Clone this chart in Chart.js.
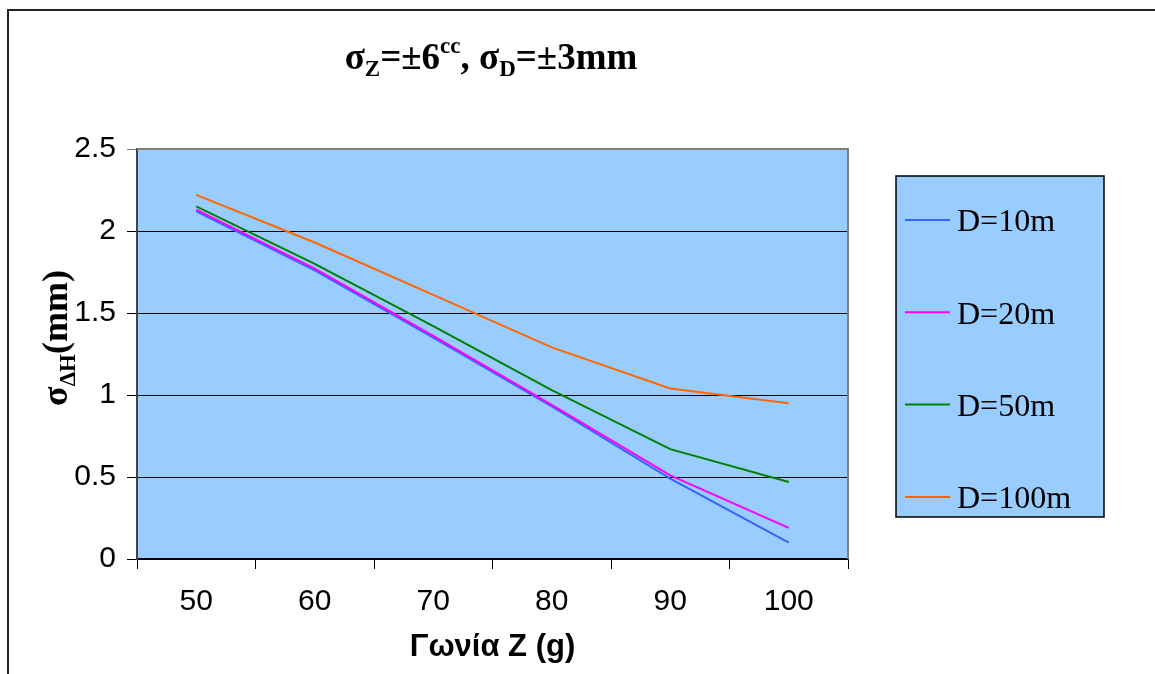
<!DOCTYPE html>
<html>
<head>
<meta charset="utf-8">
<script src="https://cdn.jsdelivr.net/npm/chart.js@4/dist/chart.umd.min.js"></script>
<style>
  body { margin: 0; background: #fff; }
  #wrap { width: 1155px; height: 674px; position: relative; }
</style>
</head>
<body>
<div id="wrap"><canvas id="myChart"></canvas></div>
<script>
const angles = ["50", "60", "70", "80", "90", "100"];
const yTickLabels = ["0", "0.5", "1", "1.5", "2", "2.5"];

const seriesNames = ["D=10m", "D=20m", "D=50m", "D=100m"];
const d10 = [2.12, 1.76, 1.35, 0.93, 0.49, 0.10];
const d20 = [2.13, 1.77, 1.36, 0.94, 0.51, 0.19];
const d50 = [2.15, 1.80, 1.42, 1.03, 0.67, 0.47];
const d100 = [2.22, 1.93, 1.61, 1.29, 1.04, 0.95];

const colors = ["#3366FF", "#FF00FF", "#008000", "#FF6600"];
const serif = "'Liberation Serif', 'Times New Roman', serif";
const sans = "'Liberation Sans', Arial, sans-serif";

// draws a run of text pieces (with sub/superscripts) starting at x
function drawRuns(c, runs, x, y) {
  runs.forEach((r) => {
    c.font = `bold ${r.size}px ${serif}`;
    c.fillText(r.t, x, y + (r.dy || 0));
    x += c.measureText(r.t).width;
  });
}
function runsWidth(c, runs) {
  let w = 0;
  runs.forEach((r) => {
    c.font = `bold ${r.size}px ${serif}`;
    w += c.measureText(r.t).width;
  });
  return w;
}

const titleRuns = [
  { t: "σ", size: 37 },
  { t: "Z", size: 23, dy: 7 },
  { t: "=±6", size: 37 },
  { t: "cc", size: 23, dy: -16 },
  { t: ", σ", size: 37 },
  { t: "D", size: 23, dy: 7 },
  { t: "=±3mm", size: 37 },
];
const yTitleRuns = [
  { t: "σ", size: 36 },
  { t: "ΔH", size: 23, dy: 8 },
  { t: "(mm)", size: 36 },
];

const decor = {
  id: "decor",
  beforeDraw(chart) {
    const c = chart.ctx;
    const a = chart.chartArea;
    c.save();
    c.fillStyle = "#fff";
    c.fillRect(0, 0, chart.width, chart.height);
    c.strokeStyle = "#222";
    c.lineWidth = 2;
    c.beginPath();
    c.moveTo(8, chart.height);
    c.lineTo(8, 10);
    c.lineTo(chart.width, 10);
    c.stroke();
    c.fillStyle = "#99CCFF";
    c.fillRect(a.left, a.top, a.right - a.left, a.bottom - a.top);
    c.restore();
  },
  afterDraw(chart) {
    const c = chart.ctx;
    const a = chart.chartArea;
    c.save();
    // plot frame top/right
    c.strokeStyle = "#808080";
    c.lineWidth = 2;
    c.beginPath();
    c.moveTo(a.left, a.top);
    c.lineTo(a.right, a.top);
    c.lineTo(a.right, a.bottom);
    c.stroke();

    // title
    c.fillStyle = "#000";
    c.textBaseline = "alphabetic";
    const tw = runsWidth(c, titleRuns);
    drawRuns(c, titleRuns, 491 - tw / 2, 69);

    // y axis title
    const yw = runsWidth(c, yTitleRuns);
    c.translate(67, (a.top + a.bottom) / 2 - 16);
    c.rotate(-Math.PI / 2);
    drawRuns(c, yTitleRuns, -yw / 2, 0);
    c.restore();

    // legend
    c.save();
    const lx = 896, ly = 176, lw = 208, lh = 341;
    c.fillStyle = "#99CCFF";
    c.fillRect(lx, ly, lw, lh);
    c.strokeStyle = "#000";
    c.lineWidth = 1.5;
    c.strokeRect(lx, ly, lw, lh);
    c.font = `32px ${serif}`;
    c.textBaseline = "middle";
    c.textAlign = "left";
    chart.data.datasets.forEach((ds, i) => {
      const y = 220 + i * 92.3;
      c.strokeStyle = ds.borderColor;
      c.lineWidth = 2;
      c.beginPath();
      c.moveTo(905, y);
      c.lineTo(950, y);
      c.stroke();
      c.fillStyle = "#000";
      c.fillText(ds.label, 957, y + 3);
    });
    c.restore();
  },
};

const ctx = document.querySelector("#myChart").getContext("2d");

const data = {
  labels: angles,
  datasets: [d10, d20, d50, d100].map((vals, i) => ({
    label: seriesNames[i],
    data: vals,
    borderColor: colors[i],
    backgroundColor: colors[i],
    borderWidth: 2,
    pointRadius: 0,
    tension: 0,
    fill: false,
    order: i === 1 ? 0 : i + 1,
  })),
};

const config = {
  type: "line",
  data,
  plugins: [decor],
  options: {
    responsive: true,
    maintainAspectRatio: false,
    animation: false,
    layout: { padding: { left: 0, right: 307, top: 149, bottom: 0 } },
    plugins: {
      legend: { display: false },
      title: { display: false },
      tooltip: { enabled: false },
    },
    scales: {
      x: {
        offset: true,
        grid: {
          offset: true,
          drawOnChartArea: false,
          tickLength: 10,
          color: "#000",
        },
        border: { color: "#000", width: 1.5 },
        ticks: { color: "#000", font: { family: sans, size: 30 }, padding: 15 },
        title: {
          display: true,
          text: "Γωνία Z (g)",
          color: "#000",
          font: { family: sans, size: 31, weight: "bold" },
          padding: { top: 0, bottom: 8 },
        },
        afterFit: (s) => { s.height = 115; },
      },
      y: {
        min: 0,
        max: 2.5,
        grid: {
          color: (c) => (c.tick && c.tick.value === 2.5 ? "#808080" : "#000"),
          tickLength: 10,
        },
        border: { color: "#444", width: 2 },
        ticks: {
          stepSize: 0.5,
          color: "#000",
          font: { family: sans, size: 30 },
          padding: 11,
          callback: (val, i) => yTickLabels[i],
        },
        afterFit: (s) => { s.width = 137; },
      },
    },
  },
};

const myChart = new Chart(ctx, config);
</script>
</body>
</html>
